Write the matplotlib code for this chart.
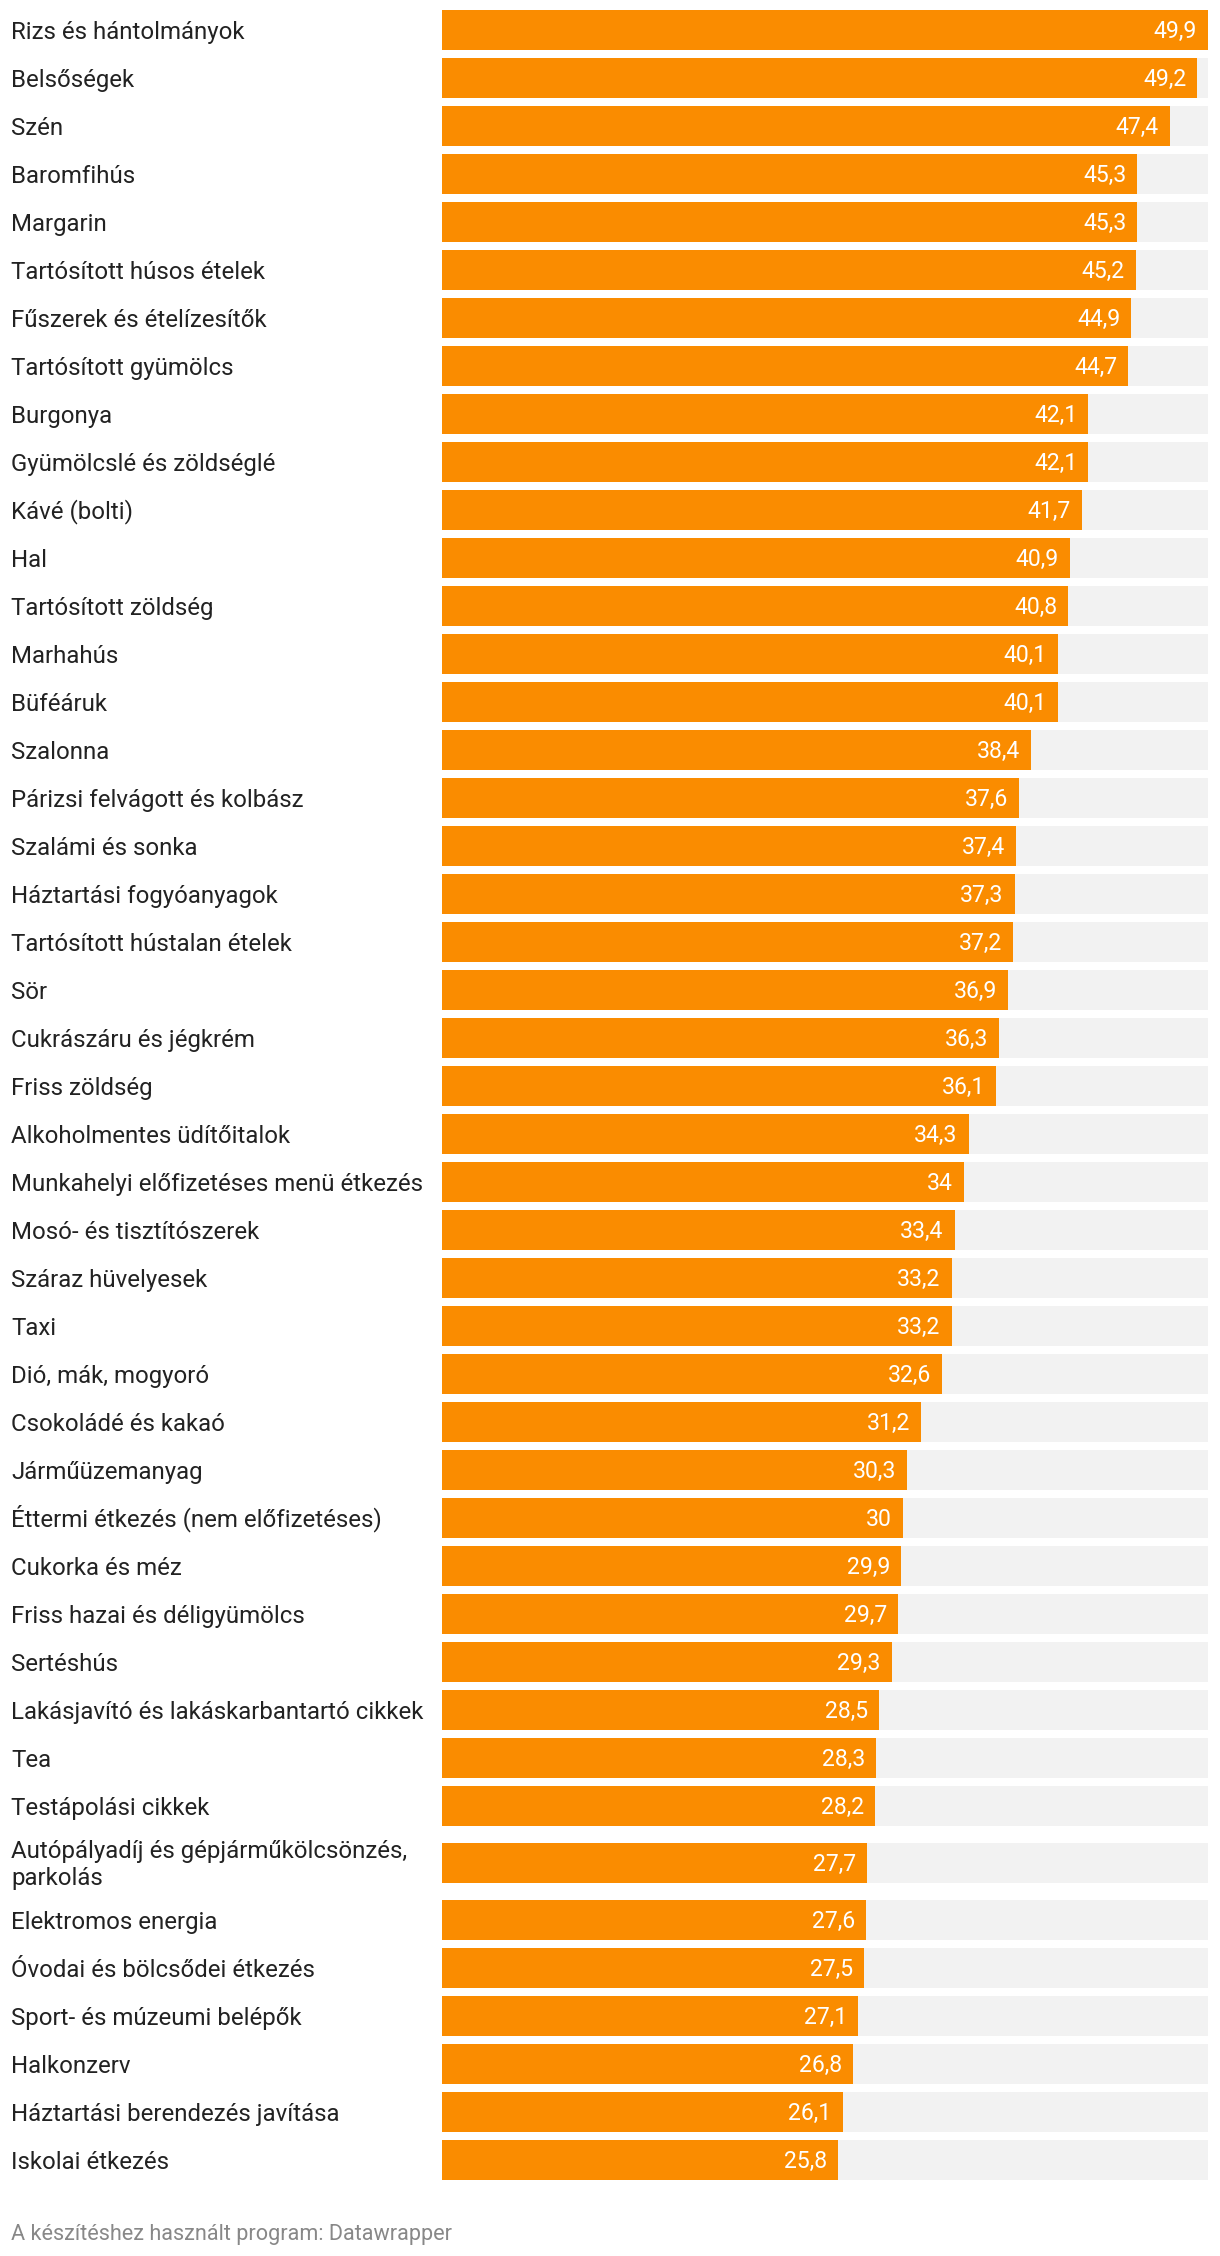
import matplotlib
matplotlib.use("Agg")
import matplotlib.pyplot as plt
from matplotlib.transforms import blended_transform_factory, offset_copy

categories = [
    "Rizs és hántolmányok", "Belsőségek", "Szén", "Baromfihús", "Margarin",
    "Tartósított húsos ételek", "Fűszerek és ételízesítők", "Tartósított gyümölcs",
    "Burgonya", "Gyümölcslé és zöldséglé", "Kávé (bolti)", "Hal",
    "Tartósított zöldség", "Marhahús", "Büféáruk", "Szalonna",
    "Párizsi felvágott és kolbász", "Szalámi és sonka", "Háztartási fogyóanyagok",
    "Tartósított hústalan ételek", "Sör", "Cukrászáru és jégkrém", "Friss zöldség",
    "Alkoholmentes üdítőitalok", "Munkahelyi előfizetéses menü étkezés",
    "Mosó- és tisztítószerek", "Száraz hüvelyesek", "Taxi", "Dió, mák, mogyoró",
    "Csokoládé és kakaó", "Járműüzemanyag", "Éttermi étkezés (nem előfizetéses)",
    "Cukorka és méz", "Friss hazai és déligyümölcs", "Sertéshús",
    "Lakásjavító és lakáskarbantartó cikkek", "Tea", "Testápolási cikkek",
    "Autópályadíj és gépjárműkölcsönzés,\nparkolás", "Elektromos energia",
    "Óvodai és bölcsődei étkezés", "Sport- és múzeumi belépők", "Halkonzerv",
    "Háztartási berendezés javítása", "Iskolai étkezés",
]
values = [
    49.9, 49.2, 47.4, 45.3, 45.3, 45.2, 44.9, 44.7, 42.1, 42.1, 41.7, 40.9,
    40.8, 40.1, 40.1, 38.4, 37.6, 37.4, 37.3, 37.2, 36.9, 36.3, 36.1, 34.3,
    34.0, 33.4, 33.2, 33.2, 32.6, 31.2, 30.3, 30.0, 29.9, 29.7, 29.3, 28.5,
    28.3, 28.2, 27.7, 27.6, 27.5, 27.1, 26.8, 26.1, 25.8,
]
footer = "A készítéshez használt program: Datawrapper"

ORANGE = "#fa8c00"
GREY_BG = "#f2f2f2"
TEXT = "#222222"
FOOT = "#888888"

W, H = 1220, 2256
DPI = 100
fig = plt.figure(figsize=(W / DPI, H / DPI), dpi=DPI)
fig.patch.set_facecolor("white")

left_px, right_px = 442, 1208
ax = fig.add_axes([left_px / W, 0, (right_px - left_px) / W, 1])
ax.set_ylim(H, 0)
ax.set_xlim(0, max(values))
ax.axis("off")

# row layout in pixels
row_h = 48
extra_line = 18
bar_h = 40
centers = []
y = 6
for c in categories:
    n = c.count("\n") + 1
    h = row_h + extra_line * (n - 1)
    centers.append(y + h / 2)
    y += h

vmax = max(values)
ax.barh(centers, [vmax] * len(values), height=bar_h, color=GREY_BG, left=0, linewidth=0)
ax.barh(centers, values, height=bar_h, color=ORANGE, linewidth=0)

font = "Roboto"
lab_px = 24
lab_pt = lab_px * 72 / DPI
cap = 0.711 * lab_px
line_gap = 26.7

tr = blended_transform_factory(fig.transFigure, ax.transData)
for c, cy in zip(categories, centers):
    lines = c.split("\n")
    n = len(lines)
    for k, ln in enumerate(lines):
        base = cy + cap / 2 + (k - (n - 1) / 2) * line_gap
        ax.text(11 / W, base, ln, transform=tr, ha="left", va="baseline",
                fontsize=lab_pt, color=TEXT, family=font)

val_px = 23
val_pt = val_px * 72 / DPI
vcap = 0.711 * val_px
vtr = offset_copy(ax.transData, fig=fig, x=-11, y=0, units="dots")
for v, cy in zip(values, centers):
    s = ("%g" % v).replace(".", ",")
    ax.text(v, cy + vcap / 2, s, transform=vtr, ha="right", va="baseline",
            fontsize=val_pt, color="white", family=font)

fig.text(11 / W, 1 - 2240 / H, footer, ha="left", va="baseline",
         fontsize=21.7 * 72 / DPI, color=FOOT, family=font)

fig.savefig("out.png", dpi=DPI, facecolor="white")
